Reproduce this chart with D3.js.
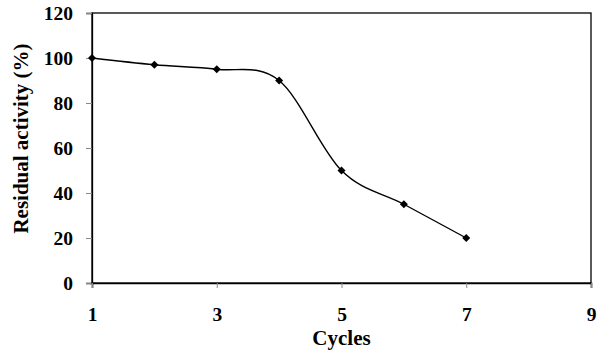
<!DOCTYPE html>
<html><head><meta charset="utf-8">
<script src="https://cdn.jsdelivr.net/npm/d3@7"></script>
<style>body{margin:0;background:#fff}svg{display:block}text{font-family:"Liberation Serif","Times New Roman",serif;font-weight:bold;fill:#000}</style>
</head><body><svg id="c" width="600" height="353"></svg>
<script>
const cycles = [1, 2, 3, 4, 5, 6, 7];
const activity = [100, 97, 95, 90, 50, 35, 20];
const xTicks = [1, 3, 5, 7, 9];
const yTicks = [0, 20, 40, 60, 80, 100, 120];

const svg = d3.select("#c");
const m = {l: 92, r: 591, t: 13, b: 283};
const x = d3.scaleLinear().domain([1, 9]).range([m.l, m.r]);
const y = d3.scaleLinear().domain([0, 120]).range([m.b, m.t]);

// frame
svg.append("rect").attr("x", m.l).attr("y", m.t).attr("width", m.r - m.l).attr("height", m.b - m.t)
  .attr("fill", "none").attr("stroke", "#000").attr("stroke-width", 1.3);

const gy = svg.append("g").attr("transform", `translate(${m.l},0)`)
  .call(d3.axisLeft(y).tickValues(yTicks).tickSize(6).tickPadding(13).tickFormat(d3.format("d")));
gy.select(".domain").attr("stroke-width", 1.3);
gy.selectAll(".tick line").attr("stroke", "#888");
gy.selectAll("text").style("font-size", "19.5px").attr("dy", "0.34em");

const gx = svg.append("g").attr("transform", `translate(0,${m.b})`)
  .call(d3.axisBottom(x).tickValues(xTicks).tickSize(5).tickPadding(20).tickFormat(d3.format("d")));
gx.select(".domain").attr("stroke-width", 1.6);
gx.selectAll(".tick line").attr("stroke", "#888");
gx.selectAll("text").style("font-size", "19.5px").attr("y", 38).attr("dy", "0");

svg.append("text").attr("x", x(5)).attr("y", 345).attr("text-anchor", "middle")
  .style("font-size", "21px").text("Cycles");
svg.append("text").attr("transform", `translate(28,138.5) rotate(-90)`)
  .attr("text-anchor", "middle").style("font-size", "21px").text("Residual activity (%)");

const pts = cycles.map((c, i) => [c, activity[i]]);
const line = d3.line().x(d => x(d[0])).y(d => y(d[1])).curve(d3.curveCardinal.tension(0));
svg.append("path").datum(pts).attr("d", line).attr("fill", "none").attr("stroke", "#000").attr("stroke-width", 1.4);

svg.selectAll(".mk").data(pts).enter().append("path").attr("class", "mk")
  .attr("transform", d => `translate(${x(d[0])},${y(d[1])})`)
  .attr("d", "M0,-4L4,0L0,4L-4,0Z").attr("fill", "#000");
</script></body></html>
